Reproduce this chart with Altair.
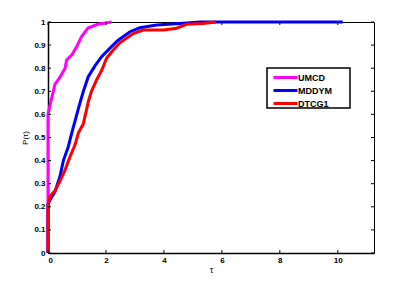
import altair as alt
import pandas as pd

series_names = ["UMCD", "MDDYM", "DTCG1"]
series_colors = ["#FF00FF", "#0000FF", "#FF0000"]

umcd_x = [0, 0, 0.07, 0.24, 0.41, 0.59, 0.64, 0.82, 0.99, 1.16, 1.38, 1.72, 2.2]
umcd_y = [0, 0.60, 0.64, 0.73, 0.76, 0.80, 0.835, 0.857, 0.893, 0.937, 0.974, 0.99, 1.0]

mddym_x = [0, 0, 0.07, 0.24, 0.41, 0.53, 0.70, 0.82, 0.93, 1.05, 1.22, 1.39, 1.62,
           1.85, 2.14, 2.41, 2.83, 3.17, 3.75, 4.55, 5.24, 10.17]
mddym_y = [0, 0.21, 0.23, 0.265, 0.33, 0.40, 0.46, 0.52, 0.57, 0.626, 0.70, 0.763, 0.81,
           0.85, 0.887, 0.92, 0.958, 0.975, 0.987, 0.994, 1.0, 1.0]

dtcg1_x = [0, 0, 0.07, 0.24, 0.41, 0.59, 0.76, 0.93, 1.05, 1.22, 1.39, 1.5, 1.68, 1.85,
           2.02, 2.25, 2.48, 2.94, 3.29, 3.98, 4.44, 4.78, 5.35, 5.8]
dtcg1_y = [0, 0.21, 0.245, 0.27, 0.31, 0.36, 0.417, 0.467, 0.52, 0.56, 0.655, 0.70, 0.75, 0.79,
           0.843, 0.879, 0.91, 0.95, 0.965, 0.965, 0.973, 0.99, 0.994, 1.0]

x_ticks = [0, 2, 4, 6, 8, 10]
y_ticks = [0, 0.1, 0.2, 0.3, 0.4, 0.5, 0.6, 0.7, 0.8, 0.9, 1]

rows = []
for name, xs, ys in [("UMCD", umcd_x, umcd_y), ("MDDYM", mddym_x, mddym_y), ("DTCG1", dtcg1_x, dtcg1_y)]:
    for i, (a, b) in enumerate(zip(xs, ys)):
        rows.append({"tau": a, "p": b, "method": name, "idx": i})
df = pd.DataFrame(rows)

W, H = 326, 231
FONT = "Liberation Sans"

xscale = alt.Scale(domain=[0, 11.25], nice=False, zero=False)
yscale = alt.Scale(domain=[0, 1], nice=False)

xaxis = alt.Axis(values=x_ticks, tickSize=0, grid=False, domainColor="black",
                 domainWidth=1.5, labelColor="black", labelFont=FONT, labelFontSize=8,
                 labelFontWeight="bold", labelPadding=3, labelOverlap=False,
                 titleFont=FONT, titleFontSize=9, titleFontWeight="normal", titlePadding=1)
yaxis = alt.Axis(values=y_ticks, format=".1~f", tickSize=0, grid=False, domainColor="black",
                 domainWidth=1.5, labelColor="black", labelFont=FONT, labelFontSize=8,
                 labelFontWeight="bold", labelPadding=3, labelOverlap=False, labelSeparation=0,
                 titleFont=FONT, titleFontSize=8, titleFontWeight="normal", titlePadding=4)

lines = alt.Chart(df).mark_line(strokeWidth=3, clip=False, strokeCap="butt").encode(
    x=alt.X("tau:Q", scale=xscale, title="τ", axis=xaxis),
    y=alt.Y("p:Q", scale=yscale, title="P(τ)", axis=yaxis),
    color=alt.Color("method:N", scale=alt.Scale(domain=series_names, range=series_colors),
                    legend=alt.Legend(title=None, orient="none", legendX=219, legendY=46,
                                      symbolType="M-3,0L3,0", symbolSize=64, symbolStrokeWidth=3,
                                      labelFont=FONT, labelFontSize=9, labelFontWeight="bold",
                                      labelColor="black", rowPadding=0, padding=4,
                                      labelLimit=200, symbolOffset=9, labelOffset=7)),
    order=alt.Order("idx:Q"),
    detail="method:N",
)

legend_box = alt.Chart(pd.DataFrame({"k": [0]})).mark_rect(
    fill="white", stroke="black", strokeWidth=1.5).encode(
    x=alt.value(219), x2=alt.value(302), y=alt.value(46), y2=alt.value(86))

xt = pd.DataFrame({"t": x_ticks})
yt = pd.DataFrame({"v": y_ticks})

xb = alt.Chart(xt).mark_rule(color="black", strokeWidth=1).encode(
    x=alt.X("t:Q", scale=xscale, title="τ", axis=xaxis), y=alt.value(H), y2=alt.value(H - 3))
xtop = alt.Chart(xt).mark_rule(color="black", strokeWidth=1).encode(
    x=alt.X("t:Q", scale=xscale, title="τ", axis=xaxis), y=alt.value(0), y2=alt.value(3))
yl = alt.Chart(yt).mark_rule(color="black", strokeWidth=1).encode(
    y=alt.Y("v:Q", scale=yscale, title="P(τ)", axis=yaxis), x=alt.value(0), x2=alt.value(3))
yr = alt.Chart(yt).mark_rule(color="black", strokeWidth=1).encode(
    y=alt.Y("v:Q", scale=yscale, title="P(τ)", axis=yaxis), x=alt.value(W), x2=alt.value(W - 3))

chart = alt.layer(lines, xb, xtop, yl, yr, legend_box).properties(
    width=W, height=H,
    autosize=alt.AutoSizeParams(type="none"),
    padding={"left": 40, "top": 14, "right": 20, "bottom": 26},
    background="white",
).configure_view(stroke="black", strokeWidth=1)

chart.save("out.html", embed_options={"renderer": "svg", "actions": False})
